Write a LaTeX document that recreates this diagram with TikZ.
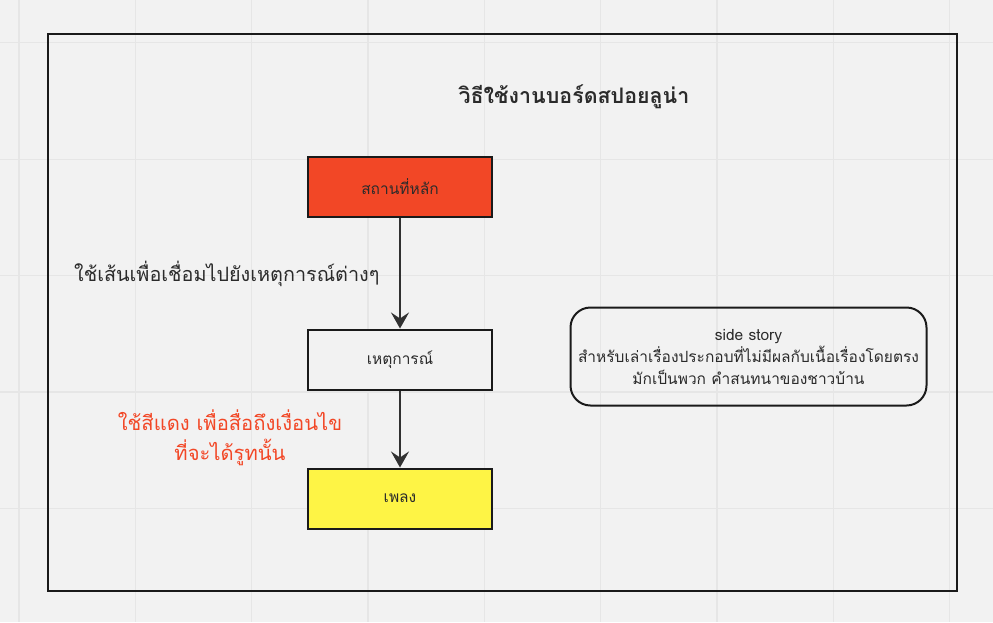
\documentclass[tikz,border=0pt]{standalone}
\usepackage{fontspec}
\setmainfont{Loma}[Script=Thai]
\usetikzlibrary{arrows.meta}
\definecolor{bg}{HTML}{F2F2F2}
\definecolor{gridc}{HTML}{E6E6E6}
\definecolor{ink}{HTML}{1A1A1A}
\definecolor{txt}{HTML}{2B2B2B}
\definecolor{redc}{HTML}{F24726}
\definecolor{yelc}{HTML}{FEF445}
\tikzset{
  box/.style={draw=ink, line width=2pt, minimum width=184pt, minimum height=60pt, inner sep=0pt, font=\fontsize{15.5}{18}\selectfont, text=txt},
  conn/.style={draw=ink!90, line width=2pt, -{Stealth[length=16pt,width=18pt,inset=6pt]}},
}
\begin{document}
\begin{tikzpicture}[x=1pt,y=-1pt]
\useasboundingbox (0,0) rectangle (993,622);
\fill[bg] (0,0) rectangle (993,622);
\foreach \gx in {19,135.3,251.6,368,484.3,600.6,717,833.3,949.6}
  \draw[gridc, line width=1.2pt] (\gx,0) -- (\gx,622);
\foreach \gy in {42.7,159.3,275.6,392,508.3}
  \draw[gridc, line width=1.2pt] (0,\gy) -- (993,\gy);
\draw[ink, line width=2pt] (48,34) rectangle (957,591);
\node[font=\bfseries\fontsize{21.4}{24}\selectfont, text=txt] (title) at (574,97) {วิธีใช้งานบอร์ดสปอยลูน่า};
\node[box, fill=redc] (main) at (400,186.5) {สถานที่หลัก};
\node[box, fill=bg] (event) at (400,359.5) {เหตุการณ์};
\node[box, fill=yelc] (song) at (400,498.5) {เพลง};
\draw[conn] (main) -- (event);
\draw[conn] (event) -- (song);
\node[font=\fontsize{19.8}{22}\selectfont, text=txt, anchor=west, inner sep=0pt] (hint) at (74,274) {ใช้เส้นเพื่อเชื่อมไปยังเหตุการณ์ต่างๆ};
\node[font=\fontsize{20.2}{30}\selectfont, text=redc, align=center] (redhint) at (230,438) {ใช้สีแดง เพื่อสื่อถึงเงื่อนไข\\ที่จะได้รูทนั้น};
\node[draw=ink, line width=2pt, rounded corners=20pt, minimum width=356pt, minimum height=98pt, align=center, font=\fontsize{15.5}{22}\selectfont, text=txt] (side) at (748.5,356.5) {side story\\สำหรับเล่าเรื่องประกอบที่ไม่มีผลกับเนื้อเรื่องโดยตรง\\มักเป็นพวก คำสนทนาของชาวบ้าน};
\end{tikzpicture}
\end{document}
